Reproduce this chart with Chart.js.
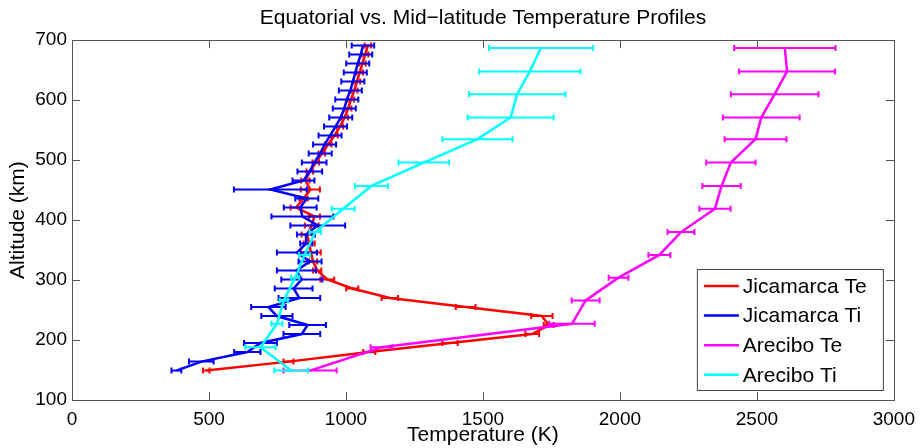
<!DOCTYPE html>
<html>
<head>
<meta charset="utf-8">
<script src="https://cdn.jsdelivr.net/npm/chart.js@4.4.0/dist/chart.umd.min.js"></script>
<style>
  html, body { margin: 0; padding: 0; background: #fff; }
  #wrap { width: 923px; height: 448px; }
</style>
</head>
<body>
<div id="wrap"><canvas id="profileChart" width="923" height="448"></canvas></div>
<script>
// Jicamarca radar profiles share one altitude grid (km)
const jicAlt = [149, 164, 180, 195, 210, 225, 240, 255, 270, 286, 301, 316, 331, 346, 361, 376, 391, 406, 421, 436,
  451, 466, 481, 496, 511, 526, 541, 556, 571, 586, 601, 616, 631, 646, 661, 676, 691];
const jicTe = [490, 790, 1085, 1380, 1680, 1740, 1715, 1437, 1160, 1023, 932, 895, 880, 872, 866, 858, 875, 885, 818, 845,
  870, 852, 868, 890, 912, 935, 958, 978, 995, 1008, 1018, 1030, 1040, 1050, 1060, 1070, 1080];
const jicTeErr = [12, 18, 22, 28, 25, 18, 39, 36, 30, 22, 25, 15, 15, 36, 20, 20, 25, 20, 20, 15,
  35, 15, 12, 12, 12, 12, 12, 12, 12, 12, 12, 12, 12, 12, 12, 12, 12];
const jicTi = [381, 472, 640, 688, 839, 860, 748, 717, 830, 809, 839, 819, 869, 821, 855, 854, 897, 841, 833, 857,
  724, 845, 868, 884, 906, 922, 942, 962, 981, 994, 1003, 1016, 1025, 1034, 1043, 1054, 1062];
const jicTiErr = [18, 45, 48, 60, 67, 67, 57, 63, 76, 69, 75, 71, 42, 73, 22, 33, 100, 113, 60, 42,
  133, 40, 45, 45, 42, 42, 42, 42, 42, 42, 42, 42, 42, 42, 42, 42, 41];

// Arecibo profiles
const arcAlt = [149, 188, 227, 266, 304, 342, 380, 419, 457, 496, 535, 571, 610, 648, 687];
const arcTe = [869, 1130, 1825, 1875, 1995, 2144, 2223, 2347, 2371, 2405, 2495, 2516, 2565, 2610, 2602];
const arcTeErr = [97, 40, 83, 51, 36, 40, 49, 57, 70, 90, 113, 140, 160, 175, 185];
const arcTi = [800, 688, 748, 773, 815, 849, 888, 990, 1093, 1284, 1480, 1601, 1625, 1671, 1712];
const arcTiErr = [62, 55, 20, 15, 15, 20, 21, 42, 60, 92, 128, 157, 176, 185, 190];

const seriesNames = ['Jicamarca Te', 'Jicamarca Ti', 'Arecibo Te', 'Arecibo Ti'];
const seriesColors = ['#ff0000', '#0000ff', '#ff00ff', '#00ffff'];

const FONT = '"Liberation Sans", Arial, Helvetica, sans-serif';
const TICK_LEN = 8;
const CAP = 3;

function profile(temps, alts) {
  return temps.map((t, i) => ({ x: t, y: alts[i] }));
}

function makeDataset(idx, temps, alts, errs) {
  return {
    label: seriesNames[idx],
    data: profile(temps, alts),
    errors: errs,
    showLine: true,
    borderColor: seriesColors[idx],
    backgroundColor: seriesColors[idx],
    borderWidth: 2.5,
    pointRadius: 0,
    tension: 0,
    order: 4 - idx // later series drawn on top
  };
}

// horizontal error bars with end caps, drawn right after each series
const errorBars = {
  id: 'errorBars',
  afterDatasetDraw(chart, args) {
    const ds = chart.data.datasets[args.index];
    if (!ds.errors) return;
    const { ctx, scales: { x, y } } = chart;
    ctx.save();
    ctx.strokeStyle = ds.borderColor;
    ctx.lineWidth = 2;
    ctx.beginPath();
    ds.data.forEach((p, i) => {
      const py = y.getPixelForValue(p.y);
      const x0 = x.getPixelForValue(p.x - ds.errors[i]);
      const x1 = x.getPixelForValue(p.x + ds.errors[i]);
      ctx.moveTo(x0, py); ctx.lineTo(x1, py);
      ctx.moveTo(x0, py - CAP); ctx.lineTo(x0, py + CAP);
      ctx.moveTo(x1, py - CAP); ctx.lineTo(x1, py + CAP);
    });
    ctx.stroke();
    ctx.restore();
  }
};

// boxed axes with inward tick marks on all four sides
const frameTicks = {
  id: 'frameTicks',
  beforeDatasetsDraw(chart) {
    const { ctx, chartArea: a, scales: { x, y } } = chart;
    ctx.save();
    ctx.strokeStyle = '#555';
    ctx.lineWidth = 1;
    ctx.beginPath();
    x.ticks.forEach(t => {
      const px = Math.round(x.getPixelForValue(t.value)) + 0.5;
      ctx.moveTo(px, a.bottom); ctx.lineTo(px, a.bottom - TICK_LEN);
      ctx.moveTo(px, a.top); ctx.lineTo(px, a.top + TICK_LEN);
    });
    y.ticks.forEach(t => {
      const py = Math.round(y.getPixelForValue(t.value)) + 0.5;
      ctx.moveTo(a.left, py); ctx.lineTo(a.left + TICK_LEN, py);
      ctx.moveTo(a.right, py); ctx.lineTo(a.right - TICK_LEN, py);
    });
    ctx.stroke();
    ctx.strokeRect(Math.round(a.left) + 0.5, Math.round(a.top) + 0.5,
      Math.round(a.right - a.left), Math.round(a.bottom - a.top));
    ctx.restore();
  }
};

// legend box in the lower right corner of the plot
const boxLegend = {
  id: 'boxLegend',
  afterDraw(chart) {
    const { ctx, chartArea: a } = chart;
    const w = 186, h = 121;
    const left = a.right - 197, top = a.bottom - 131;
    ctx.save();
    ctx.fillStyle = '#fff';
    ctx.fillRect(left, top, w, h);
    ctx.strokeStyle = '#444';
    ctx.lineWidth = 1;
    ctx.strokeRect(left + 0.5, top + 0.5, w, h);
    ctx.font = '21px ' + FONT;
    ctx.textBaseline = 'middle';
    ctx.fillStyle = '#000';
    chart.data.datasets.forEach((ds, i) => {
      const rowY = top + 17 + i * 29.6;
      ctx.strokeStyle = ds.borderColor;
      ctx.lineWidth = 2.5;
      ctx.beginPath();
      ctx.moveTo(left + 7, rowY);
      ctx.lineTo(left + 42, rowY);
      ctx.stroke();
      ctx.fillText(ds.label, left + 46, rowY + 1);
    });
    ctx.restore();
  }
};

const ctx = document.getElementById('profileChart').getContext('2d');

new Chart(ctx, {
  type: 'scatter',
  data: {
    datasets: [
      makeDataset(0, jicTe, jicAlt, jicTeErr),
      makeDataset(1, jicTi, jicAlt, jicTiErr),
      makeDataset(2, arcTe, arcAlt, arcTeErr),
      makeDataset(3, arcTi, arcAlt, arcTiErr)
    ]
  },
  options: {
    responsive: false,
    animation: false,
    layout: { padding: { left: 0, right: 24, top: 0, bottom: 0 } },
    plugins: {
      legend: { display: false },
      tooltip: { enabled: false },
      title: {
        display: true,
        fullSize: false, // centre over the plot area
        text: 'Equatorial vs. Mid\u2212latitude Temperature Profiles',
        color: '#000',
        font: { family: FONT, size: 21, weight: 'normal' },
        padding: { top: 6, bottom: 9 }
      }
    },
    scales: {
      x: {
        type: 'linear',
        min: 0,
        max: 3000,
        grid: { display: false, drawTicks: false },
        border: { display: false },
        ticks: { stepSize: 500, color: '#000', padding: 8, maxRotation: 0, font: { family: FONT, size: 19 },
          callback: v => String(v) },
        title: { display: true, text: 'Temperature (K)', color: '#000', padding: { top: 0, bottom: 0 },
          font: { family: FONT, size: 21 } },
        afterFit(scale) { scale.height = 48; }
      },
      y: {
        type: 'linear',
        min: 100,
        max: 700,
        grid: { display: false, drawTicks: false },
        border: { display: false },
        ticks: { stepSize: 100, color: '#000', padding: 5, font: { family: FONT, size: 19 } },
        title: { display: true, text: 'Altitude (km)', color: '#000', padding: { top: 6, bottom: 0 },
          font: { family: FONT, size: 21 } },
        afterFit(scale) { scale.width = 72; }
      }
    }
  },
  plugins: [frameTicks, errorBars, boxLegend]
});
</script>
</body>
</html>
